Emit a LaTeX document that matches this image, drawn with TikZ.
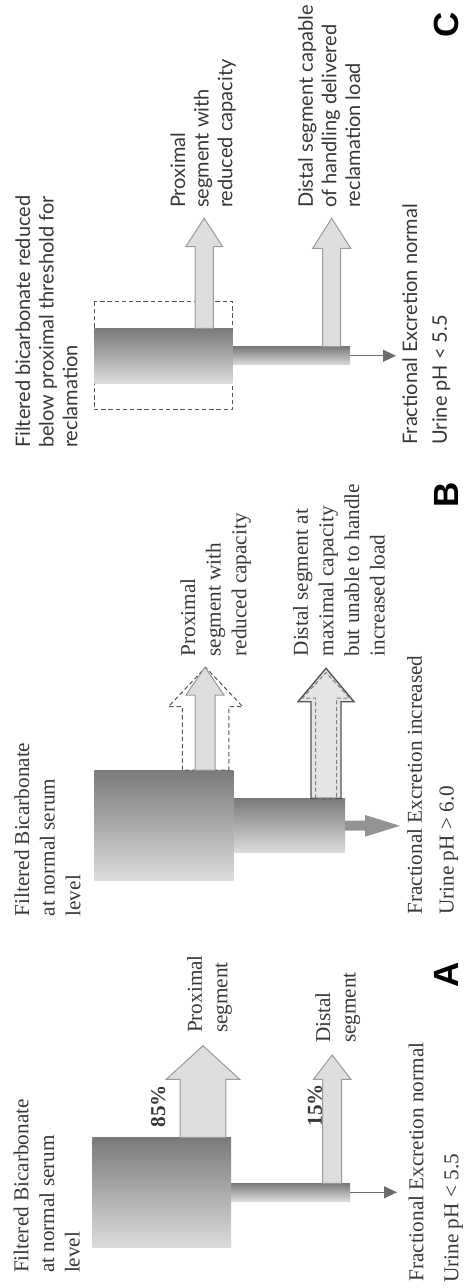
\documentclass[tikz,border=0pt]{standalone}
\usepackage{fontspec}
\setmainfont{Liberation Serif}
\newfontfamily\csans{Lato}
\newfontfamily\lsans{Liberation Sans}
\usetikzlibrary{arrows.meta}
\definecolor{txt}{HTML}{383838}
\definecolor{arrfill}{HTML}{DDDEE0}
\definecolor{arredge}{HTML}{9A9A9A}
\definecolor{boxtop}{HTML}{7A7A7A}
\definecolor{boxbot}{HTML}{DCDCDC}
\definecolor{darkedge}{HTML}{555555}
\newcommand\blockarrow[7]{%
  \draw[#1] ({#2-#3},#5) -- ({#2-#3},#6) -- ({#2-#4},#6) -- (#2,#7) -- ({#2+#4},#6) -- ({#2+#3},#6) -- ({#2+#3},#5) -- cycle;}
\begin{document}
\begin{tikzpicture}[x=0.5pt,y=-0.5pt,
  lbl/.style={rotate=90, anchor=north west, align=left, inner sep=0pt, text=txt, font=\fontsize{10.6}{12.8}\selectfont},
  clbl/.style={lbl, font=\csans\fontsize{10}{11.8}\selectfont},
  pct/.style={rotate=90, inner sep=0pt, text=txt, font=\bfseries\fontsize{10.6}{12}\selectfont},
  letter/.style={rotate=90, inner sep=0pt, text=black, font=\lsans\bfseries\fontsize{17.5}{19}\selectfont},
  grad/.style={top color=boxtop, bottom color=boxbot, draw=none},
  blk/.style={fill=arrfill, draw=arredge, line width=0.5pt},
  dashblk/.style={fill=white, draw=darkedge, line width=0.5pt, dash pattern=on 2.2pt off 1.4pt},
  solidblk/.style={fill=arrfill!80!white, draw=darkedge, line width=0.7pt},
  innerdash/.style={draw=gray, line width=0.5pt, dash pattern=on 2pt off 1.3pt},
  thinarr/.style={draw=gray!85!black, line width=0.6pt, -{Triangle[length=6.5pt,width=6pt]}},
  dashbox/.style={draw=darkedge, line width=0.5pt, dash pattern=on 2.2pt off 1.4pt}
]
\useasboundingbox (0,0) rectangle (464,1288);

% ---------------- Panel A ----------------
\shade[grad] (231,1183.3) rectangle (350,1201);
\shade[grad] (92.3,1137.3) rectangle (231,1247.7);
\blockarrow{blk}{203}{22.85}{36.7}{1137.3}{1079.3}{1045.7}
\blockarrow{blk}{332.2}{9.5}{18.7}{1183.3}{1079.3}{1055}
\coordinate (Aout) at (350,1192.3);
\coordinate (Aend) at (397,1192.3);
\draw[thinarr] (Aout) -- (Aend);
\node[lbl] (Atitle) at (13.3,1273.3) {Filtered Bicarbonate\\at normal serum\\level};
\node[lbl] (Aprox) at (186.7,1033.3) {Proximal\\segment};
\node[lbl] (Adist) at (315,1043.3) {Distal\\segment};
\node[pct] (A85) at (158.3,1106) {85\%};
\node[pct] (A15) at (315,1105) {15\%};
\node[lbl] (Afe) at (408.3,1282) {Fractional Excretion normal};
\node[lbl] (Aur) at (444,1283) {Urine pH < 5.5};
\node[letter] (Alet) at (446,975) {A};

% ---------------- Panel B ----------------
\shade[grad] (233.3,798.3) rectangle (345,852.7);
\shade[grad] (94.3,770) rectangle (233.3,880.7);
\blockarrow{dashblk}{205.6}{23.3}{37.2}{770}{706.7}{667.3}
\blockarrow{blk}{205}{10}{19}{770}{695}{667.3}
\blockarrow{solidblk}{326}{15}{28}{798.3}{701.7}{668.3}
\blockarrow{innerdash}{326}{10.5}{23.5}{798.3}{698}{672.5}
\fill[gray!85] (345,820.7) -- (365,820.7) -- (365,815) -- (400,825.8) -- (365,836.7) -- (365,830.5) -- (345,830.5) -- cycle;
\node[lbl] (Btitle) at (14,916.7) {Filtered Bicarbonate\\at normal serum\\level};
\node[lbl] (Bprox) at (180,656.7) {Proximal\\segment with\\reduced capacity};
\node[lbl] (Bdist) at (292.7,656.7) {Distal segment at\\maximal capacity\\but unable to handle\\increased load};
\node[lbl] (Bfe) at (406.7,915) {Fractional Excretion increased};
\node[lbl] (Bur) at (439,915) {Urine pH > 6.0};
\node[letter] (Blet) at (446,495) {B};

% ---------------- Panel C ----------------
\draw[dashbox] (94.3,301.7) rectangle (232.3,410);
\shade[grad] (232.3,346.7) rectangle (350,365);
\shade[grad] (94.3,328.3) rectangle (232.3,383.3);
\blockarrow{blk}{204.2}{9.2}{18.5}{328.3}{246.7}{218.3}
\blockarrow{blk}{331.7}{9}{19}{346.7}{248.3}{218.3}
\coordinate (Cout) at (350,355.8);
\coordinate (Cend) at (396,355.8);
\draw[thinarr] (Cout) -- (Cend);
\node[clbl] (Ctitle) at (15,448.3) {Filtered bicarbonate reduced\\below proximal threshold for\\reclamation};
\node[clbl] (Cprox) at (170,208.3) {Proximal\\segment with\\reduced capacity};
\node[clbl] (Cdist) at (297.7,208.3) {Distal segment capable\\of handling delivered\\reclamation load};
\node[clbl] (Cfe) at (402,445) {Fractional Excretion normal};
\node[clbl] (Cur) at (432,445) {Urine pH < 5.5};
\node[letter] (Clet) at (446,25) {C};
\end{tikzpicture}
\end{document}
